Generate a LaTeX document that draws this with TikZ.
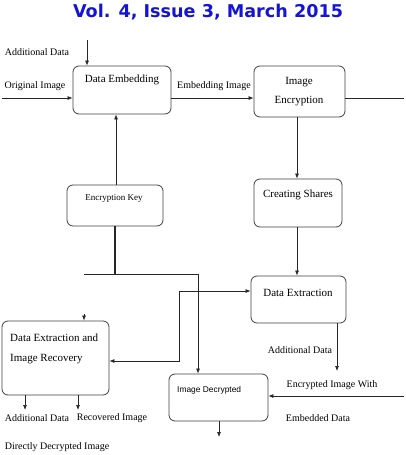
\documentclass[tikz,border=0pt]{standalone}
\usepackage{fontspec}
\setmainfont{Liberation Serif}
\newfontfamily\titlefont{DejaVu Sans}
\newfontfamily\smallsans{Liberation Sans}
\usetikzlibrary{arrows.meta}
\definecolor{titleblue}{RGB}{20,20,215}
\begin{document}
\begin{tikzpicture}[x=1pt,y=-1pt,
  box/.style={draw=black!75,line width=0.8pt,rounded corners=6pt,minimum width=#1,inner sep=0pt},
  conn/.style={draw=black!85,line width=0.7pt},
  arr/.style={conn,-{Latex[length=5pt,width=4pt]}},
  lbl/.style={font=\fontsize{10}{12}\selectfont,inner sep=0pt},
  btxt/.style={font=\fontsize{11}{13}\selectfont,inner sep=0pt}]
\useasboundingbox (0,0) rectangle (405,455);
% title
\node (title) at (208,12) {\titlefont\bfseries\color{titleblue}\fontsize{17.6}{20}\selectfont Vol. 4, Issue 3, March 2015};
% boxes
\node[box=98pt,minimum height=48pt] (emb) at (122,90) {};
\node[box=91pt,minimum height=51pt] (enc) at (299.5,91.5) {};
\node[box=96pt,minimum height=41pt] (key) at (115,205.5) {};
\node[box=88pt,minimum height=48pt] (shares) at (298,203) {};
\node[box=95pt,minimum height=47pt] (ext) at (298.5,299.5) {};
\node[box=107pt,minimum height=74pt] (deir) at (55.5,358) {};
\node[box=99pt,minimum height=47pt] (dec) at (218.5,397.5) {};
% box texts
\node[btxt] (tEmb) at (122,80) {Data Embedding};
\node[btxt] (tEnc1) at (299,82) {Image};
\node[btxt] (tEnc2) at (299,101) {Encryption};
\node[inner sep=0pt,font=\fontsize{9}{11}\selectfont] (tKey) at (114,198) {Encryption Key};
\node[btxt] (tShares) at (298,195) {Creating Shares};
\node[btxt] (tExt) at (298,293) {Data Extraction};
\node[btxt,anchor=west] (tDeir1) at (10,338) {Data Extraction and};
\node[btxt,anchor=west] (tDeir2) at (10,359) {Image Recovery};
\node[inner sep=0pt,anchor=west,font=\smallsans\fontsize{8.4}{10}\selectfont] (tDec) at (177,390) {Image Decrypted};
% labels
\node[lbl] (lAdd1) at (37,52) {Additional Data};
\node[lbl] (lOrig) at (35,86) {Original Image};
\node[lbl] (lEmbImg) at (214,86) {Embedding Image};
\node[lbl] (lAdd2) at (300,350) {Additional Data};
\node[lbl] (lEncW) at (332,385) {Encrypted Image With};
\node[lbl] (lEmbD) at (318,418) {Embedded Data};
\node[lbl] (lAdd3) at (37,418) {Additional Data};
\node[lbl] (lRec) at (112,418) {Recovered Image};
\node[lbl] (lDir) at (57,447) {Directly Decrypted Image};
% coordinates
\coordinate (cA) at (87,40);
\coordinate (cO) at (2,98);
\coordinate (cR) at (404,98);
\coordinate (j1) at (115,274);
\coordinate (jL) at (84,274);
\coordinate (jR) at (198,274);
\coordinate (k1) at (179,291);
\coordinate (k2) at (179,361);
\coordinate (cAd) at (337,371);
\coordinate (cEw) at (404,396);
\coordinate (cDd) at (219,437);
\coordinate (cD1) at (25,410);
\coordinate (cD2) at (78,410);
\coordinate (cSm) at (84,314);
% connectors
\draw[arr] (cA) -- (cA |- emb.north);
\draw[arr] (cO) -- (cO -| emb.west);
\draw[arr] (emb.east |- cO) -- (enc.west |- cO);
\draw[conn] (enc.east |- cR) -- (cR);
\draw[arr] (enc.south -| 297,0) -- (shares.north -| 297,0);
\draw[arr] (key.north -| 116,0) -- (emb.south -| 116,0);
\draw[conn,line width=1.1pt] (key.south -| j1) -- (j1);
\draw[conn] (jL) -- (jR);
\draw[arr] (jR) -- (jR |- dec.north);
\draw[arr] (shares.south -| 297,0) -- (ext.north -| 297,0);
\draw[conn,{Latex[length=5pt,width=4pt]}-{Latex[length=5pt,width=4pt]}] (deir.east |- k2) -- (k2) -- (k1) -- (ext.west |- k1);
\draw[arr] (ext.south -| cAd) -- (cAd);
\draw[arr] (cEw) -- (dec.east |- cEw);
\draw[arr] (dec.south -| cDd) -- (cDd);
\draw[arr] (deir.south -| cD1) -- (cD1);
\draw[arr] (deir.south -| cD2) -- (cD2);
\draw[arr] (cSm) -- (cSm |- deir.north);
\end{tikzpicture}
\end{document}
